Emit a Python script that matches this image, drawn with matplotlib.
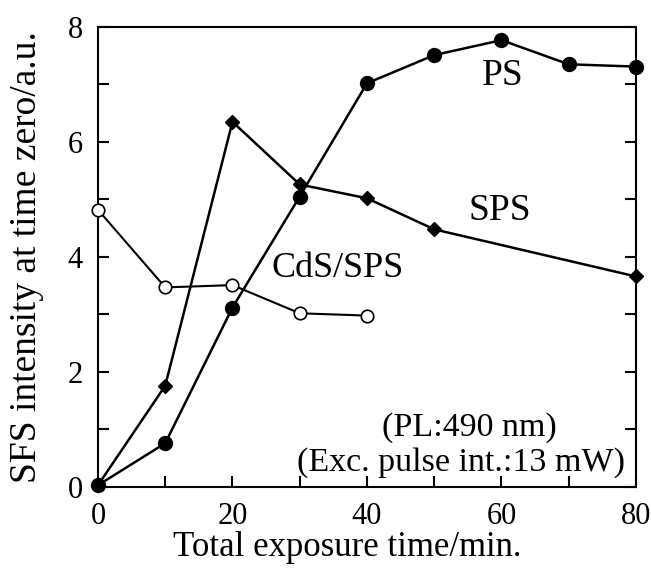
import numpy as np
import matplotlib.pyplot as plt
from matplotlib.ticker import MultipleLocator

plt.rcParams['font.family'] = ['Liberation Serif', 'DejaVu Serif']

# data
t_ps = [0, 10, 20, 30, 40, 50, 60, 70, 80]
ps = [0.03, 0.76, 3.12, 5.05, 7.02, 7.51, 7.77, 7.35, 7.31]

t_sps = [0, 10, 20, 30, 40, 50, 80]
sps = [0.03, 1.76, 6.35, 5.26, 5.02, 4.48, 3.66]

t_cds = [0, 10, 20, 30, 40]
cds = [4.82, 3.47, 3.51, 3.02, 2.98]

fig = plt.figure(figsize=(6.51, 5.79), dpi=100)
ax = fig.add_axes([0.1505, 0.159, 0.8264, 0.7945])

ax.plot(t_cds, cds, color="black", lw=1.5, marker="o", ms=9,
        mfc="white", mec="black", mew=1.2, clip_on=False, zorder=3)
ax.plot(t_sps, sps, color="black", lw=1.8, marker="D", ms=7.5,
        clip_on=False, zorder=4)
ax.plot(t_ps, ps, color="black", lw=1.8, marker="o", ms=10,
        clip_on=False, zorder=5)

ax.set_xlim(0, 80)
ax.set_ylim(0, 8)
ax.xaxis.set_major_locator(MultipleLocator(20))
ax.xaxis.set_minor_locator(MultipleLocator(10))
ax.yaxis.set_major_locator(MultipleLocator(2))
ax.yaxis.set_minor_locator(MultipleLocator(1))
ax.tick_params(which="both", direction="in", length=8, width=1.5,
               labelsize=22, top=False, right=True, pad=11)
for s in ax.spines.values():
    s.set_linewidth(1.5)

ax.set_xlabel("Total exposure time/min.", fontsize=25)
ax.set_ylabel("SFS intensity at time zero/a.u.", fontsize=27)
ax.xaxis.set_label_coords(0.463, -0.095)
ax.yaxis.set_label_coords(-0.10, 0.5)

ax.text(60.2, 7.15, "PS", fontsize=27, ha="center", va="center")
ax.text(59.8, 4.8, "SPS", fontsize=27, ha="center", va="center")
ax.text(35.7, 3.8, "CdS/SPS", fontsize=26, ha="center", va="center")
ax.text(55.3, 1.04, "(PL:490 nm)", fontsize=24.5, ha="center", va="center")
ax.text(54.0, 0.43, "(Exc. pulse int.:13 mW)", fontsize=24.5, ha="center", va="center")

plt.savefig("out.png", dpi=100)
